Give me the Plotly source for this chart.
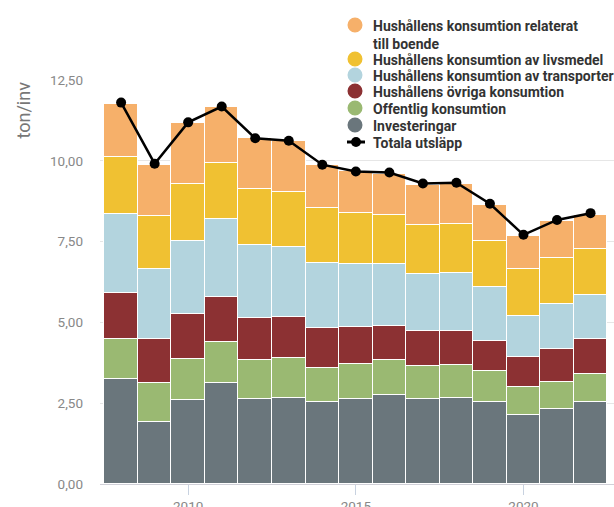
import plotly.graph_objects as go

years = list(range(2008, 2023))

investeringar = [3.24, 1.93, 2.60, 3.14, 2.63, 2.67, 2.53, 2.63, 2.75, 2.63, 2.67, 2.55, 2.12, 2.32, 2.55]
offentlig = [1.24, 1.21, 1.26, 1.26, 1.20, 1.24, 1.07, 1.09, 1.08, 1.03, 1.01, 0.94, 0.89, 0.85, 0.86]
ovriga = [1.42, 1.34, 1.39, 1.39, 1.31, 1.26, 1.23, 1.15, 1.07, 1.06, 1.06, 0.95, 0.93, 1.01, 1.07]
transporter = [2.45, 2.17, 2.28, 2.40, 2.24, 2.17, 2.01, 1.93, 1.90, 1.78, 1.78, 1.67, 1.27, 1.38, 1.36]
livsmedel = [1.76, 1.65, 1.74, 1.74, 1.74, 1.69, 1.70, 1.58, 1.53, 1.51, 1.51, 1.42, 1.44, 1.43, 1.43]
boende = [1.65, 1.58, 1.89, 1.72, 1.58, 1.57, 1.34, 1.32, 1.27, 1.24, 1.26, 1.11, 1.03, 1.14, 1.05]
totala = [11.80, 9.91, 11.19, 11.68, 10.70, 10.62, 9.88, 9.67, 9.64, 9.30, 9.32, 8.67, 7.71, 8.17, 8.38]

names = [
    "Investeringar",
    "Offentlig konsumtion",
    "Hushållens övriga konsumtion",
    "Hushållens konsumtion av transporter",
    "Hushållens konsumtion av livsmedel",
    "Hushållens konsumtion relaterat<br>till boende",
]
line_name = "Totala utsläpp"
y_title = "ton/inv"
values = [investeringar, offentlig, ovriga, transporter, livsmedel, boende]
colors = ["#6a767c", "#9ab972", "#8c3133", "#b3d4de", "#f0c132", "#f6b06a"]

W, H = 614, 507
ML, MR, MT, MB = 100, 0, 80, 23
PH = H - MT - MB


def py(p):
    """pixel y (from top) -> paper y"""
    return (H - MB - p) / PH


def px(p):
    return (p - ML) / (W - ML - MR)


fig = go.Figure()
for name, vals, col in zip(names, values, colors):
    fig.add_trace(go.Bar(
        x=years, y=vals, name=name.replace("<br>", " "), showlegend=False,
        marker=dict(color=col, line=dict(color="white", width=1.5)),
        width=1.0, hoverinfo="skip",
    ))

fig.add_trace(go.Scatter(
    x=years, y=totala, name=line_name, mode="lines+markers", showlegend=False,
    line=dict(color="black", width=2.5),
    marker=dict(color="black", size=10),
))

shapes = []
annotations = []
# legend background
shapes.append(dict(type="rect", xref="paper", yref="paper",
                   x0=px(342), x1=1.0, y0=py(153), y1=py(8),
                   fillcolor="white", line=dict(width=0), layer="above"))

leg_font = dict(family="Roboto", size=14, color="#333", weight="bold")
text_x = px(371)
circ_x = px(355)
# legend rows (top -> bottom)
row_centers = [25, 59, 75, 91, 108, 125]
for (name, col), yc in zip(list(zip(names, colors))[::-1], row_centers):
    shapes.append(dict(type="circle", xref="paper", yref="paper",
                       xsizemode="pixel", ysizemode="pixel",
                       xanchor=circ_x, yanchor=py(yc),
                       x0=-7.5, x1=7.5, y0=-7.5, y1=7.5,
                       fillcolor=col, line=dict(width=0), layer="above"))
    annotations.append(dict(xref="paper", yref="paper", x=text_x, y=py(yc - 9),
                            xanchor="left", yanchor="top", align="left",
                            showarrow=False, text=name, font=leg_font))
# line legend item
yl = 142
shapes.append(dict(type="line", xref="paper", yref="paper",
                   x0=px(347), x1=px(365), y0=py(yl), y1=py(yl),
                   line=dict(color="black", width=3), layer="above"))
shapes.append(dict(type="circle", xref="paper", yref="paper",
                   xsizemode="pixel", ysizemode="pixel",
                   xanchor=px(356), yanchor=py(yl),
                   x0=-5, x1=5, y0=-5, y1=5,
                   fillcolor="black", line=dict(width=0), layer="above"))
annotations.append(dict(xref="paper", yref="paper", x=text_x, y=py(yl - 9),
                        xanchor="left", yanchor="top", align="left",
                        showarrow=False, text=line_name, font=leg_font))

# y-axis title, aligned to the top of the axis
annotations.append(dict(xref="paper", yref="paper", x=px(23), y=py(80),
                        xanchor="center", yanchor="top", textangle=-90,
                        showarrow=False, text=y_title,
                        font=dict(family="Roboto", size=18, color="#777")))

fig.update_layout(
    width=W, height=H,
    barmode="stack", bargap=0,
    plot_bgcolor="white", paper_bgcolor="white",
    separators=",.",
    font=dict(family="Roboto", color="#333"),
    margin=dict(l=ML, r=MR, t=MT, b=MB, autoexpand=False),
    showlegend=False,
    shapes=shapes,
    annotations=annotations,
    xaxis=dict(
        range=[2007.37, 2022.7], automargin=False,
        tickvals=[2010, 2015, 2020], ticktext=["2010", "2015", "2020"],
        ticks="outside", ticklen=10, tickcolor="#c8d2e0", tickwidth=1,
        showgrid=False, zeroline=False,
        showline=True, linecolor="#d0d0d8", linewidth=1,
        tickfont=dict(size=13.5, color="#888"),
    ),
    yaxis=dict(
        range=[0, 12.5], automargin=False,
        tickvals=[0, 2.5, 5, 7.5, 10, 12.5], tickformat=".2f",
        showgrid=True, gridcolor="#e6e6e6", gridwidth=1,
        zeroline=False, ticks="", ticklabelstandoff=16,
        tickfont=dict(size=13.5, color="#888"),
    ),
)

fig.write_html("out.html", config={"displayModeBar": False},
               post_script="document.body.style.margin='0';document.body.style.overflow='hidden';")
